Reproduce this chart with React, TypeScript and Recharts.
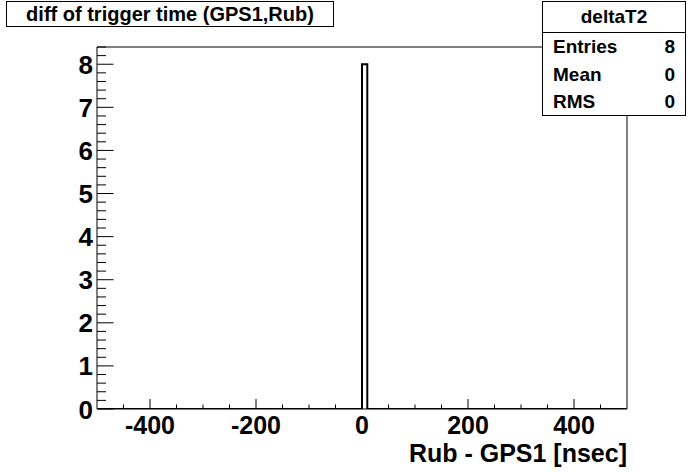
import React from 'react';
import { ComposedChart, Line, XAxis, YAxis } from 'recharts';

// Histogram "deltaT2": bin edges and counts (100 bins of 10 ns from -500 to 500, only bin [0,10) filled)
const binEdges = [-500, 0, 10, 500];
const binCounts = [0, 8, 0];

const xMajorLabels = [-400, -200, 0, 200, 400];
const xTicks = [-450, -400, -350, -300, -250, -200, -150, -100, -50, 0, 50, 100, 150, 200, 250, 300, 350, 400, 450];
const yMajorLabels = [0, 1, 2, 3, 4, 5, 6, 7, 8];
const yTicks = Array.from({ length: 43 }, (_, i) => Math.round(i * 2) / 10);

const title = 'diff of trigger time (GPS1,Rub)';
const statsName = 'deltaT2';
const statsRows: [string, string][] = [
  ['Entries', '8'],
  ['Mean', '0'],
  ['RMS', '0'],
];
const xTitle = 'Rub - GPS1 [nsec]';

const data = binEdges.map((e, i) => ({ x: e, y: i < binCounts.length ? binCounts[i] : 0 }));

const FONT = '"Liberation Sans", Arial, Helvetica, sans-serif';

const XTick = (props: any) => {
  const { x, y, payload } = props;
  const v = payload.value;
  const major = xMajorLabels.includes(v);
  return (
    <g>
      <line x1={x} x2={x} y1={y} y2={y - (major ? 10 : 4.5)} stroke="#000" strokeWidth={1} />
      {major && (
        <text x={x} y={y + 25} textAnchor="middle" fontFamily={FONT} fontWeight="bold" fontSize={25} fill="#000">
          {v}
        </text>
      )}
    </g>
  );
};

const YTick = (props: any) => {
  const { x, y, payload } = props;
  const v = payload.value;
  const major = yMajorLabels.includes(v);
  return (
    <g>
      <line x1={x} x2={x + (major ? 16.5 : 9)} y1={y} y2={y} stroke="#000" strokeWidth={1} />
      {major && (
        <text x={x - 4} y={y + 9.5} textAnchor="end" fontFamily={FONT} fontWeight="bold" fontSize={26} fill="#000">
          {v}
        </text>
      )}
    </g>
  );
};

export default function App() {
  return (
    <div style={{ position: 'absolute', left: 0, top: 0, width: 696, height: 472, background: '#fff' }}>
      <ComposedChart
        width={696}
        height={472}
        data={data}
        margin={{ top: 37, right: 59, bottom: 53, left: 87 }}
      >
        <XAxis
          xAxisId="b"
          dataKey="x"
          type="number"
          domain={[-500, 500]}
          ticks={xTicks}
          interval={0}
          tickSize={0}
          tickMargin={0}
          tickLine={false}
          tick={<XTick />}
          height={10}
          axisLine={{ stroke: '#000', strokeWidth: 1 }}
          allowDataOverflow
          label={(p: any) => {
            const vb = p.viewBox || {};
            return (
              <text
                x={(vb.x ?? 97) + (vb.width ?? 530)}
                y={462}
                textAnchor="end"
                fontFamily={FONT}
                fontWeight="bold"
                fontSize={25}
                fill="#000"
              >
                {xTitle}
              </text>
            );
          }}
        />
        <XAxis
          xAxisId="t"
          dataKey="x"
          type="number"
          orientation="top"
          domain={[-500, 500]}
          tick={false}
          tickLine={false}
          height={10}
          axisLine={{ stroke: '#000', strokeWidth: 1 }}
          allowDataOverflow
        />
        <YAxis
          yAxisId="l"
          type="number"
          domain={[0, 8.4]}
          ticks={yTicks}
          interval={0}
          tickSize={0}
          tickMargin={0}
          tickLine={false}
          tick={<YTick />}
          width={10}
          axisLine={{ stroke: '#000', strokeWidth: 1 }}
          allowDataOverflow
        />
        <YAxis
          yAxisId="r"
          type="number"
          orientation="right"
          domain={[0, 8.4]}
          tick={false}
          tickLine={false}
          width={10}
          axisLine={{ stroke: '#000', strokeWidth: 1 }}
          allowDataOverflow
        />
        <Line
          xAxisId="b"
          yAxisId="l"
          dataKey="y"
          type="stepAfter"
          stroke="#000"
          strokeWidth={2}
          dot={false}
          activeDot={false}
          isAnimationActive={false}
        />
      </ComposedChart>

      <div
        style={{
          position: 'absolute',
          left: 6,
          top: 1,
          width: 328,
          height: 26,
          border: '1px solid #000',
          background: '#fff',
          boxSizing: 'border-box',
          fontFamily: FONT,
          fontWeight: 'bold',
          fontSize: 20,
          lineHeight: '24px',
          textAlign: 'center',
          color: '#000',
        }}
      >
        {title}
      </div>

      <div
        style={{
          position: 'absolute',
          left: 542,
          top: 1,
          width: 144,
          height: 115,
          border: '1px solid #000',
          background: '#fff',
          boxSizing: 'border-box',
          fontFamily: FONT,
          fontWeight: 'bold',
          fontSize: 19,
          color: '#000',
        }}
      >
        <div style={{ height: 30, lineHeight: '30px', textAlign: 'center', borderBottom: '1px solid #000' }}>
          {statsName}
        </div>
        {statsRows.map(([k, v]) => (
          <div key={k} style={{ display: 'flex', justifyContent: 'space-between', height: 27.6, lineHeight: '27.6px', padding: '0 10px 0 10px' }}>
            <span>{k}</span>
            <span>{v}</span>
          </div>
        ))}
      </div>
    </div>
  );
}
